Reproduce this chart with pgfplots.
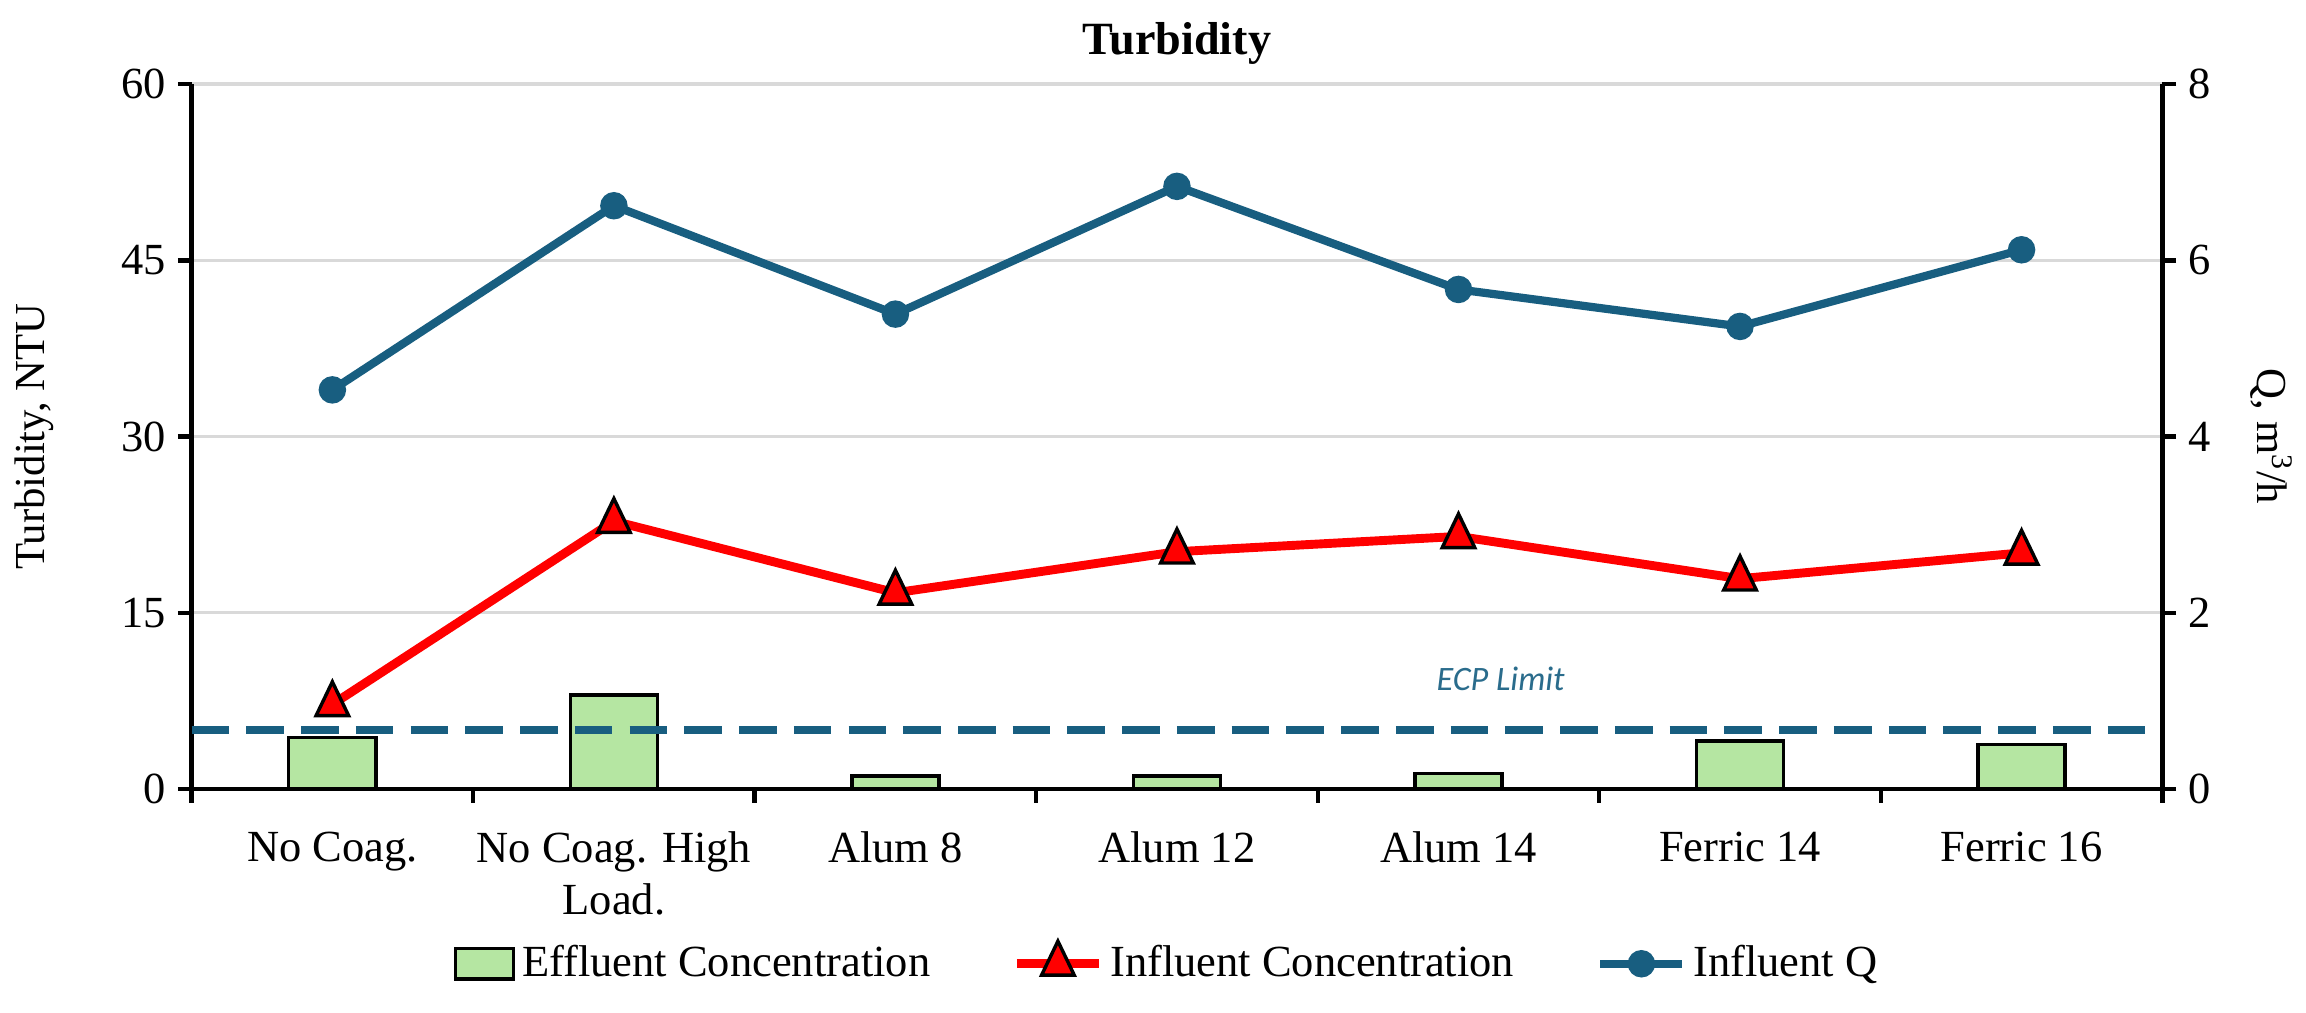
\documentclass[border=0pt]{standalone}
\usepackage{fontspec}
\setmainfont{Liberation Serif}
\newfontfamily\calibri{Carlito}
\usepackage{pgfplots}
\pgfplotsset{compat=1.18}
\definecolor{barG}{HTML}{B5E6A2}
\definecolor{qblue}{HTML}{185E80}
\definecolor{ecpc}{HTML}{2A6C8C}
\definecolor{gridc}{HTML}{D9D9D9}
\pgfplotstableread{
x eff inf q
0 4.4 7.2 4.53
1 8.0 22.8 6.62
2 1.1 16.7 5.39
3 1.1 20.2 6.84
4 1.3 21.5 5.67
5 4.1 17.9 5.25
6 3.8 20.1 6.12
}\data
\pgfplotsset{
  lineleg/.style={legend image code/.code={\draw[mark repeat=2,mark phase=2,#1] plot coordinates {(0pt,0pt) (12pt,0pt) (24pt,0pt)};}},
  barleg/.style={legend image code/.code={\draw[#1] (0pt,-4.5pt) rectangle (17pt,4.5pt);}},
  common/.style={scale only axis, width=576pt, height=206pt,
    xmin=-0.5, xmax=6.5,
    /pgf/number format/assume math mode=true,
    axis line style={black, line width=1.3pt, -},
    tick style={black, line width=1.3pt},
    major tick length=4pt, minor tick length=4pt,
    tick align=outside,
  },
}
\begin{document}
\begin{tikzpicture}[font=\fontsize{13}{15}\selectfont]
\begin{axis}[common,
  ymin=0, ymax=60, ytick={0,15,...,60},
  xtick={0,...,6},
  xticklabels={No Coag., {No Coag. High\\Load.}, Alum 8, Alum 12, Alum 14, Ferric 14, Ferric 16},
  xticklabel style={align=center, anchor=north, yshift=-5pt},
  major x tick style={draw=none},
  minor xtick={-0.5,0.5,...,6.5},
  axis x line*=bottom, axis y line*=left,
  ymajorgrids, grid style={gridc, line width=1pt},
  every axis y label/.style={at={(rel axis cs:0,0.5)}, xshift=-46pt, rotate=90, anchor=center, font=\fontsize{12.5}{15}\selectfont},
  ylabel={Turbidity, NTU},
  every axis title/.style={at={(rel axis cs:0.5,1)}, anchor=center, yshift=12pt, font=\fontsize{13.5}{15}\selectfont\bfseries},
  title={Turbidity},
]
\coordinate (bl) at (rel axis cs:0,0);
\coordinate (tr) at (rel axis cs:1,1);
\addplot[ybar, bar width=0.31, fill=barG, draw=black, line width=1pt] table[x=x, y=eff] {\data};
\addplot[qblue, line width=2.4pt, dash pattern=on 11pt off 5pt] coordinates {(-0.5,5) (6.5,5)};
\addplot[red, line width=2.6pt, mark=triangle*, mark size=5.5pt, mark options={solid, fill=red, draw=black, line width=1pt, yscale=1.2}] table[x=x, y=inf] {\data};
\node[font=\calibri\itshape\fontsize{10}{12}\selectfont, text=ecpc] at (axis cs:4.15,9.4) {ECP Limit};
\end{axis}
\begin{axis}[common,
  ymin=0, ymax=8, ytick={0,2,...,8},
  axis y line*=right, axis x line=none,
  every axis y label/.style={at={(rel axis cs:1,0.5)}, xshift=32pt, rotate=-90, anchor=center, font=\fontsize{12.5}{15}\selectfont},
  ylabel={Q, m\textsuperscript{3}/h},
  legend style={at={(0.496,-0.248)}, anchor=center, draw=none, fill=none, legend columns=-1,
    /tikz/every even column/.append style={column sep=22pt},
    legend cell align=left, inner sep=0pt},
]
\addlegendimage{barleg, fill=barG, draw=black, line width=1pt}
\addlegendentry{Effluent Concentration}
\addlegendimage{lineleg, red, line width=2.6pt, mark=triangle*, mark size=5.5pt, mark options={solid, fill=red, draw=black, line width=1pt, yscale=1.2}}
\addlegendentry{Influent Concentration}
\addplot[lineleg, qblue, line width=2.4pt, mark=*, mark size=2.8pt, mark options={solid, fill=qblue, draw=qblue}] table[x=x, y=q] {\data};
\addlegendentry{Influent Q}
\end{axis}
\pgfresetboundingbox
\path ([shift={(-56pt,-65.4pt)}]bl) rectangle ([shift={(42pt,24.6pt)}]tr);
\end{tikzpicture}
\end{document}
